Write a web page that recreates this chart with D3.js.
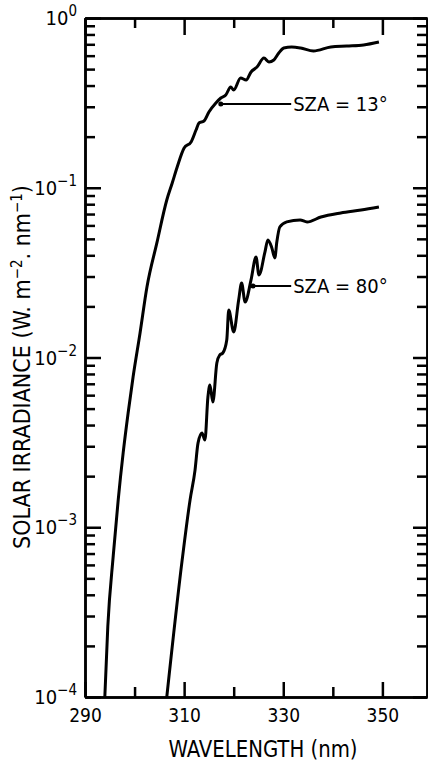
<!DOCTYPE html>
<html>
<head>
<meta charset="utf-8">
<script src="https://cdn.jsdelivr.net/npm/d3@7"></script>
<style>
  body { margin: 0; background: #fff; }
  svg { display: block; }
  text { font-family: "DejaVu Sans Condensed", "DejaVu Sans", sans-serif; fill: #000; }
  .axis path, .axis line { stroke: #000; stroke-width: 2.5; }
</style>
</head>
<body>
<script>
// wavelength (nm) and irradiance (W m-2 nm-1)
const wl13 = [294.0, 294.6, 295.7, 296.7, 297.7, 298.7, 299.7, 301.1, 302.5, 304.5, 306.5, 307.6, 308.6, 310.0, 311.4, 312.4, 313.0, 314.0, 315.0, 316.4, 317.4, 318.4, 319.4, 320.0, 321.4, 322.5, 323.5, 324.7, 326.1, 327.1, 328.1, 329.1, 330.1, 331.7, 333.5, 336.1, 339.6, 342.8, 346.2, 349.3]
const irr13 = [1e-4, 2.6e-4, 6.8e-4, 1.45e-3, 2.74e-3, 4.71e-3, 7.67e-3, 0.0139, 0.026, 0.0473, 0.0847, 0.1067, 0.1325, 0.1714, 0.1861, 0.2188, 0.2406, 0.2472, 0.2794, 0.3157, 0.338, 0.3518, 0.3923, 0.3765, 0.443, 0.431, 0.481, 0.514, 0.581, 0.551, 0.566, 0.622, 0.666, 0.675, 0.666, 0.639, 0.675, 0.684, 0.694, 0.722]

const wl80 = [306.5, 309.6, 311.2, 312.2, 312.8, 313.6, 314.2, 314.8, 315.2, 315.8, 316.6, 317.2, 317.8, 318.6, 319.0, 320.0, 321.0, 321.6, 322.3, 323.5, 324.5, 325.1, 326.3, 326.9, 327.7, 328.3, 328.7, 329.3, 330.7, 333.4, 334.8, 337.6, 341.6, 345.7, 349.3]
const irr80 = [1e-4, 6.4e-4, 1.45e-3, 2.17e-3, 3.13e-3, 3.59e-3, 3.27e-3, 5.85e-3, 6.89e-3, 5.47e-3, 9.28e-3, 0.01035, 0.01063, 0.01268, 0.01905, 0.01413, 0.02182, 0.02748, 0.02122, 0.02863, 0.0391, 0.0306, 0.0418, 0.0492, 0.0442, 0.0386, 0.0479, 0.0587, 0.0629, 0.0646, 0.0629, 0.0672, 0.071, 0.0739, 0.077]

// ticks
const xMajor = [290, 310, 330, 350]
const xMinor = [300, 320, 340]
const decades = [1e-4, 1e-3, 1e-2, 1e-1, 1]
const decadeExp = ['-4', '-3', '-2', '-1', '0']

// annotations: label, leader start (nm), label start (nm), level
const annText = ['SZA = 13°', 'SZA = 80°']
const annFrom = [317.4, 323.9]
const annTo = [331.6, 331.6]
const annLevel = [0.311, 0.0264]

const margin = {top: 18, bottom: 64, left: 85, right: 1}
const W = 428, H = 761
const width = W - margin.left - margin.right
const height = H - margin.top - margin.bottom

const svg = d3.select('body').append('svg')
  .attr('width', W)
  .attr('height', H)

const g = svg.append('g')
  .attr('transform', `translate(${margin.left},${margin.top})`)

const x = d3.scaleLinear().domain([290, 359]).range([0, width])
const y = d3.scaleLog().domain([1e-4, 1]).range([height, 0])

// minor ticks 2..9 for every decade
const yMinor = []
decades.slice(0, -1).forEach(d => { for (let k = 2; k <= 9; k++) yMinor.push(d * k) })

// bottom axis
g.append('g').attr('class', 'axis').attr('transform', `translate(0,${height})`)
  .call(d3.axisBottom(x).tickValues(xMinor).tickSizeInner(-10).tickSizeOuter(0).tickFormat(''))
g.append('g').attr('class', 'axis x-labels').attr('transform', `translate(0,${height})`)
  .call(d3.axisBottom(x).tickValues(xMajor).tickSizeInner(-15).tickSizeOuter(0).tickPadding(12))
  .call(s => s.selectAll('text').attr('font-size', 19).attr('font-family', null))

// top axis
g.append('g').attr('class', 'axis')
  .call(d3.axisTop(x).tickValues(xMinor).tickSizeInner(-10).tickSizeOuter(0).tickFormat(''))
g.append('g').attr('class', 'axis')
  .call(d3.axisTop(x).tickValues(xMajor).tickSizeInner(-17).tickSizeOuter(0).tickFormat(''))

// left axis
g.append('g').attr('class', 'axis')
  .call(d3.axisLeft(y).tickValues(yMinor).tickSizeInner(-10).tickSizeOuter(0).tickFormat(''))
g.append('g').attr('class', 'axis')
  .call(d3.axisLeft(y).tickValues(decades).tickSizeInner(-16).tickSizeOuter(0).tickFormat(''))

// right axis
g.append('g').attr('class', 'axis').attr('transform', `translate(${width},0)`)
  .call(d3.axisRight(y).tickValues(yMinor).tickSizeInner(-10).tickSizeOuter(0).tickFormat(''))
g.append('g').attr('class', 'axis').attr('transform', `translate(${width},0)`)
  .call(d3.axisRight(y).tickValues(decades).tickSizeInner(-14).tickSizeOuter(0).tickFormat(''))

g.selectAll('.axis .domain').attr('stroke-width', 3)

// y tick labels 10^n
const yl = g.selectAll('.ylab').data(decades).join('text')
  .attr('class', 'ylab')
  .attr('x', -8)
  .attr('y', d => y(d))
  .attr('dy', '0.36em')
  .attr('text-anchor', 'end')
  .attr('font-size', 20)
yl.append('tspan').text('10')
yl.append('tspan').attr('font-size', 15).attr('dy', '-0.6em').text((d, i) => decadeExp[i].replace('-', '\u2212'))

// axis titles
g.append('text')
  .attr('x', 178)
  .attr('y', height + 60)
  .attr('text-anchor', 'middle')
  .attr('font-size', 23)
  .attr('textLength', 189)
  .attr('lengthAdjust', 'spacingAndGlyphs')
  .text('WAVELENGTH (nm)')

const yt = g.append('text')
  .attr('transform', `translate(${-margin.left + 30},${349}) rotate(-90)`)
  .attr('text-anchor', 'middle')
  .attr('font-size', 23)
yt.append('tspan').text('SOLAR IRRADIANCE (W. m')
yt.append('tspan').attr('font-size', 15).attr('baseline-shift', '55%').text('\u22122')
yt.append('tspan').text('. nm')
yt.append('tspan').attr('font-size', 15).attr('baseline-shift', '55%').text('\u22121')
yt.append('tspan').text(')')

// curves
const line = d3.line()
  .x(d => x(d[0]))
  .y(d => y(d[1]))
  .curve(d3.curveMonotoneX)

const series = [d3.zip(wl13, irr13), d3.zip(wl80, irr80)]
g.selectAll('.curve').data(series).join('path')
  .attr('class', 'curve')
  .attr('d', line)
  .attr('fill', 'none')
  .attr('stroke', '#000')
  .attr('stroke-width', 3)
  .attr('stroke-linejoin', 'round')

// annotations
annText.forEach((t, i) => {
  g.append('line')
    .attr('x1', x(annFrom[i])).attr('x2', x(annTo[i]))
    .attr('y1', y(annLevel[i])).attr('y2', y(annLevel[i]))
    .attr('stroke', '#000').attr('stroke-width', 2)
  g.append('circle')
    .attr('cx', x(annFrom[i])).attr('cy', y(annLevel[i]))
    .attr('r', 2.5)
  g.append('text')
    .attr('x', x(annTo[i]) + 2)
    .attr('y', y(annLevel[i]))
    .attr('dy', '0.36em')
    .attr('font-size', 20)
    .text(t)
})
</script>
</body>
</html>
